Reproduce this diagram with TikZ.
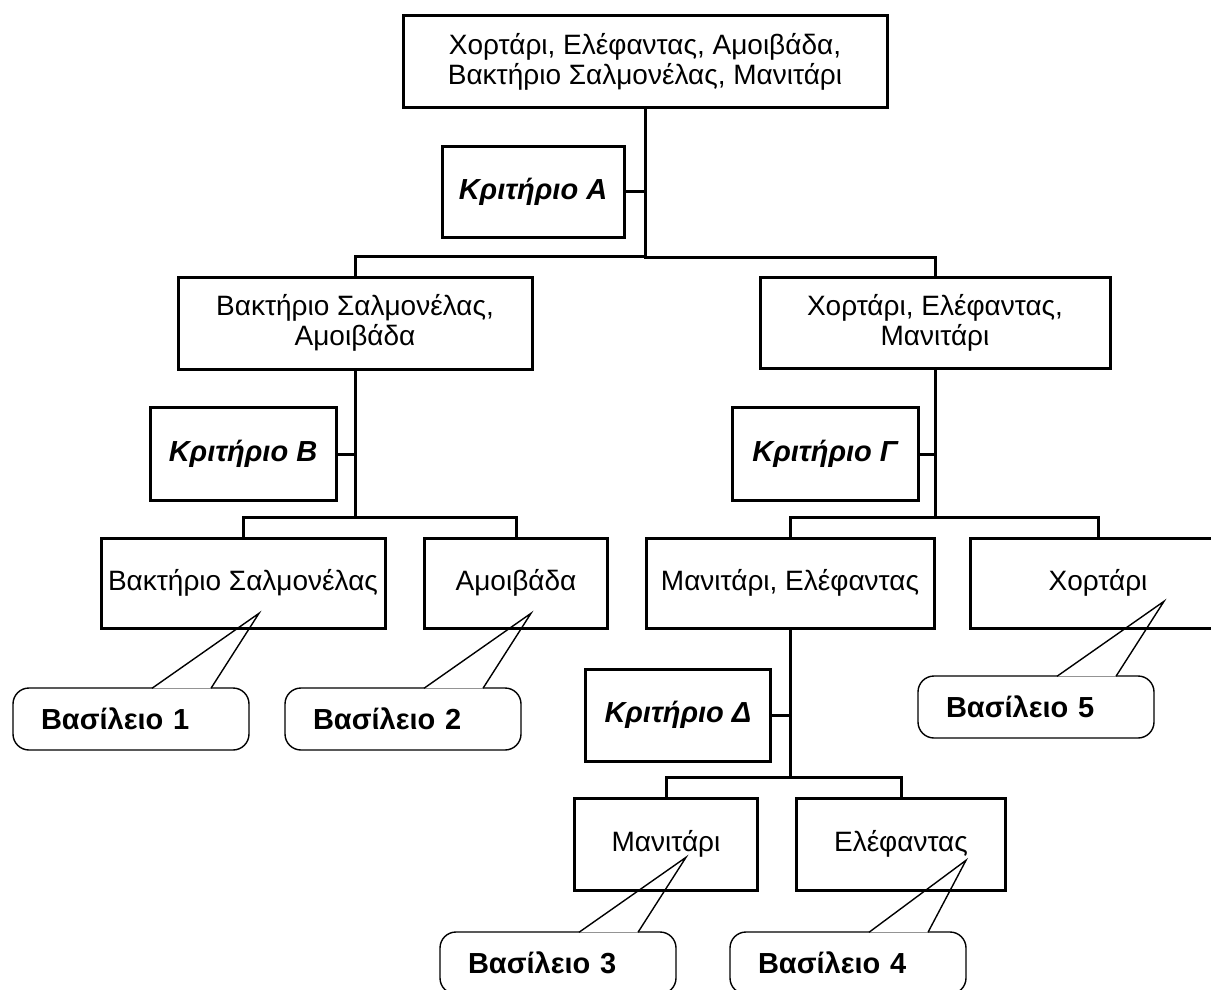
\documentclass[tikz,border=0pt]{standalone}
\usepackage{fontspec}
\setmainfont{Liberation Sans}
\newfontfamily\critfont{Liberation Sans}
\usetikzlibrary{calc,backgrounds}

\begin{document}
\begin{tikzpicture}[x=0.5pt, y=-0.5pt, line join=miter,
  box/.style={draw, line width=1.5pt, align=center, inner sep=0pt, font=\fontsize{14}{15}\selectfont},
  critbox/.style={draw, line width=1.5pt, inner sep=0pt, font=\critfont\bfseries\itshape\fontsize{14.5}{16}\selectfont},
  callout/.style={draw, line width=0.7pt, rounded corners=8pt, align=left, text width=90pt, inner xsep=14pt, inner ysep=0pt, minimum height=31pt, font=\critfont\bfseries\fontsize{14.5}{16}\selectfont},
  link/.style={line width=1.5pt}]
\useasboundingbox (0,0) rectangle (1211,990);
% boxes of the key
\node[box, minimum width=242pt, minimum height=46pt] (all) at (645,62) {Χορτάρι, Ελέφαντας, Αμοιβάδα,\\Βακτήριο Σαλμονέλας, Μανιτάρι};
\node[critbox, minimum width=91pt, minimum height=45.5pt] (critA) at (533,192) {Κριτήριο Α};
\node[box, minimum width=177pt, minimum height=46pt] (bactamoeb) at (355,323) {Βακτήριο Σαλμονέλας,\\Αμοιβάδα};
\node[box, minimum width=175pt, minimum height=45.5pt] (grassfung) at (935,323) {Χορτάρι, Ελέφαντας,\\Μανιτάρι};
\node[critbox, minimum width=93pt, minimum height=46.5pt] (critB) at (243,454) {Κριτήριο Β};
\node[critbox, minimum width=93pt, minimum height=46.5pt] (critG) at (825,454) {Κριτήριο Γ};
\node[box, minimum width=142pt, minimum height=45pt] (bact) at (243,583) {Βακτήριο Σαλμονέλας};
\node[box, minimum width=91.5pt, minimum height=45pt] (amoeb) at (516,583) {Αμοιβάδα};
\node[box, minimum width=144pt, minimum height=45pt] (fungeleph) at (790,583) {Μανιτάρι, Ελέφαντας};
\node[box, minimum width=128pt, minimum height=45pt] (grass) at (1098,583) {Χορτάρι};
\node[critbox, minimum width=92.5pt, minimum height=46pt] (critD) at (678,715) {Κριτήριο Δ};
\node[box, minimum width=91.5pt, minimum height=46pt] (fungus) at (666,844) {Μανιτάρι};
\node[box, minimum width=104.5pt, minimum height=46pt] (eleph) at (901,844) {Ελέφαντας};
% tree lines
\draw[link] (all.south) |- ($(bactamoeb.north)+(0,-19)$) -- (bactamoeb.north);\draw[link] (all.south) |- ($(grassfung.north)+(0,-19)$) -- (grassfung.north);\draw[link] (critA.east) -- (critA.east -| all.south);
\draw[link] (bactamoeb.south) |- ($(bact.north)+(0,-19)$) -- (bact.north);\draw[link] (bactamoeb.south) |- ($(amoeb.north)+(0,-19)$) -- (amoeb.north);\draw[link] (critB.east) -- (critB.east -| bactamoeb.south);
\draw[link] (grassfung.south) |- ($(fungeleph.north)+(0,-19)$) -- (fungeleph.north);\draw[link] (grassfung.south) |- ($(grass.north)+(0,-19)$) -- (grass.north);\draw[link] (critG.east) -- (critG.east -| grassfung.south);
\draw[link] (fungeleph.south) |- ($(fungus.north)+(0,-19)$) -- (fungus.north);\draw[link] (fungeleph.south) |- ($(eleph.north)+(0,-19)$) -- (eleph.north);\draw[link] (critD.east) -- (critD.east -| fungeleph.south);
% kingdoms
\begin{scope}[on background layer]
\node[callout] (king1) at (131,719) {Βασίλειο 1};
\node[callout] (king2) at (403,719) {Βασίλειο 2};
\node[callout] (king3) at (558,963) {Βασίλειο 3};
\node[callout] (king4) at (848,963) {Βασίλειο 4};
\node[callout] (king5) at (1036,707) {Βασίλειο 5};
\filldraw[line width=0.7pt, fill=white] ($(king1.north)+(21,1)$) -- ($(king1.north)+(128,-74)$) -- ($(king1.north)+(80,1)$);
\filldraw[line width=0.7pt, fill=white] ($(king2.north)+(21,1)$) -- ($(king2.north)+(128,-74)$) -- ($(king2.north)+(80,1)$);
\filldraw[line width=0.7pt, fill=white] ($(king3.north)+(21,1)$) -- ($(king3.north)+(128,-74)$) -- ($(king3.north)+(80,1)$);
\filldraw[line width=0.7pt, fill=white] ($(king4.north)+(21,1)$) -- ($(king4.north)+(118,-71)$) -- ($(king4.north)+(80,1)$);
\filldraw[line width=0.7pt, fill=white] ($(king5.north)+(21,1)$) -- ($(king5.north)+(128,-74)$) -- ($(king5.north)+(80,1)$);
\end{scope}
\end{tikzpicture}
\end{document}
